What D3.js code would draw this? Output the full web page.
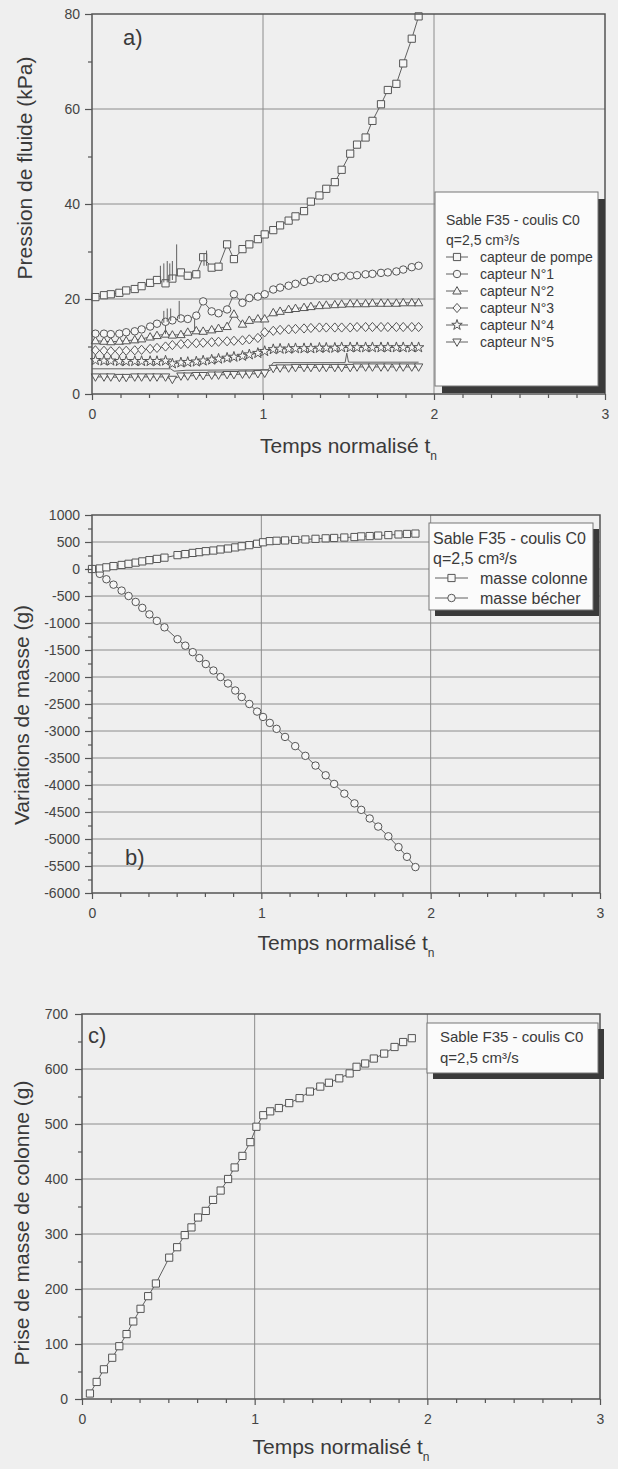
<!DOCTYPE html>
<html>
<head>
<meta charset="utf-8">
<script src="https://cdn.jsdelivr.net/npm/d3@7"></script>
<style>
  body { margin: 0; background: #efefef; }
  svg text { font-family: 'Liberation Sans', Arial, sans-serif; fill: #3a3a3a; }
  .grid { stroke: #8c8c8c; stroke-width: 1; }
  .frame { fill: none; stroke: #555; stroke-width: 1.5; }
  .axis path { display: none; }
  .axis line { stroke: #555; stroke-width: 1.2; }
  .axis text { font-size: 14px; fill: #444; }
  .serie { fill: none; stroke: #606060; stroke-width: 1; }
  .marker { fill: #f6f6f6; stroke: #555; stroke-width: 1; }
  .spike { stroke: #606060; stroke-width: 1; }
  .title { font-size: 21px; }
  .panel-label { font-size: 22px; }
  .legend-box { fill: #fbfbfb; stroke: #777; stroke-width: 1; }
  .legend-shadow { fill: #3a3a3a; }
</style>
</head>
<body>
<svg id="chart" width="618" height="1469"></svg>
<script>
// ---- donnees communes
const xTicks = [0, 1, 2, 3]

// ---- a) pression de fluide (kPa)
const tA = [0.02, 0.07, 0.11, 0.16, 0.2, 0.25, 0.29, 0.34, 0.38, 0.43, 0.47, 0.52, 0.56, 0.61, 0.65, 0.7, 0.74, 0.79, 0.83, 0.88, 0.92,
  0.97, 1.01, 1.06, 1.1, 1.15, 1.19, 1.24, 1.28, 1.33, 1.37, 1.42, 1.46, 1.51, 1.55, 1.6, 1.64, 1.69, 1.73, 1.78, 1.82, 1.87, 1.91]
const capteurPompe = [20.4, 20.8, 21, 21.3, 21.8, 22.1, 22.7, 23.4, 24, 23.3, 24.3, 25.6, 24.9, 25.2, 28.8, 26.6, 26.8, 31.5, 28.4, 30.5, 31.5,
  32.6, 33.6, 34.5, 35.5, 36.5, 37.4, 38.5, 40.5, 41.8, 43.2, 44.6, 47.2, 50.6, 52.5, 54, 57.5, 61, 64, 65.3, 69.6, 74.8, 79.5]
const capteur1 = [12.7, 12.7, 12.6, 12.7, 13, 13.2, 13.6, 14.2, 14.8, 15.2, 15.5, 15.9, 15.8, 16.5, 19.5, 17.4, 17, 17.8, 21, 19.2, 20.2,
  20.5, 21, 22, 22.4, 22.8, 23.2, 23.6, 24, 24.3, 24.4, 24.6, 24.8, 24.9, 25, 25.2, 25.3, 25.5, 25.6, 25.8, 26.2, 26.7, 27]
const capteur2 = [11.2, 11.1, 11, 11.1, 11.2, 11.4, 11.6, 12, 12.3, 12.6, 12.4, 12.5, 13, 13.3, 13.2, 13.5, 13.8, 14.2, 16.8, 14.7, 15.5,
  15.8, 15.8, 17.1, 17.4, 17.8, 18, 18.2, 18.4, 18.6, 18.7, 18.8, 18.9, 19, 19, 19, 19.1, 19.1, 19.1, 19.1, 19.2, 19.2, 19.2]
const capteur3 = [9.2, 9.1, 9, 9, 9.1, 9.2, 9.3, 9.5, 9.7, 10, 10.3, 10.5, 10.6, 10.7, 10.8, 10.9, 11, 11.1, 11.2, 11.3, 11.5,
  11.8, 13, 13.3, 13.5, 13.6, 13.7, 13.8, 13.9, 14, 14, 14, 14, 14, 14.1, 14.1, 14.1, 14.1, 14.1, 14.1, 14.1, 14.1, 14.1]
const capteur4 = [7.1, 7, 7, 6.9, 6.9, 6.9, 6.9, 6.9, 6.9, 7, 6.4, 6.6, 6.7, 6.8, 7, 7.2, 7.4, 7.6, 7.8, 8, 8.3,
  8.6, 9, 9.4, 9.5, 9.5, 9.6, 9.6, 9.6, 9.7, 9.7, 9.7, 9.8, 9.8, 9.8, 9.8, 9.8, 9.8, 9.8, 9.8, 9.8, 9.8, 9.8]
const capteur5 = [3.6, 3.6, 3.6, 3.5, 3.5, 3.6, 3.6, 3.6, 3.6, 3.6, 3.1, 3.8, 3.8, 3.9, 3.9, 4, 4, 4.1, 4.1, 4.2, 4.2,
  4.3, 4.4, 5.4, 5.5, 5.5, 5.6, 5.6, 5.6, 5.6, 5.6, 5.6, 5.6, 5.6, 5.7, 5.7, 5.7, 5.7, 5.7, 5.7, 5.7, 5.7, 5.7]
// trace sans symbole visible sous le capteur N°4
const traceT = [0, 0.46, 0.48, 0.55, 1.0, 1.03, 1.06, 1.48, 1.49, 1.5, 1.91]
const traceP = [5.3, 5.3, 4.8, 5, 5.1, 5.1, 6.6, 6.6, 8.6, 6.7, 6.7]
// pics isoles [t, bas, haut]
const picsPompe = [[0.40, 23.8, 27], [0.42, 23.5, 27.5], [0.44, 23.5, 28], [0.455, 23.8, 27.5], [0.47, 24, 28], [0.495, 24.8, 31.5],
  [0.655, 27, 29.5], [0.67, 27, 30.2]]
const pics1 = [[0.42, 15, 17.5], [0.44, 15.2, 18], [0.46, 15.4, 18], [0.51, 15.8, 19.6]]
const pics2 = [[0.6, 13.2, 15.8], [0.43, 12.6, 14.5]]

// ---- b) variations de masse (g) et c) prise de masse de colonne (g)
const tM = [0.046, 0.085, 0.127, 0.175, 0.216, 0.258, 0.297, 0.339, 0.383, 0.428, 0.505, 0.551, 0.595, 0.634, 0.672, 0.717, 0.759, 0.803,
  0.846, 0.884, 0.929, 0.975, 1.01, 1.05, 1.09, 1.14, 1.2, 1.26, 1.32, 1.38, 1.43, 1.49, 1.55, 1.59, 1.64, 1.69, 1.75, 1.81, 1.86, 1.91]
const masseColonne = [10, 31, 54, 75, 96, 118, 141, 164, 187, 210, 257, 276, 298, 312, 330, 342, 362, 379,
  400, 421, 442, 467, 495, 516, 523, 529, 538, 547, 559, 568, 575, 583, 592, 604, 610, 619, 628, 640, 649, 656]
const masseBecher = [-90, -190, -290, -400, -500, -610, -720, -840, -960, -1080, -1300, -1420, -1540, -1650, -1760, -1880, -2000, -2120,
  -2250, -2370, -2500, -2640, -2740, -2850, -2960, -3110, -3280, -3460, -3640, -3820, -3980, -4160, -4340, -4460, -4620, -4770, -4950, -5150, -5330, -5520]

const yTicksA = [0, 20, 40, 60, 80]
const yMinorA = [10, 30, 50, 70]
const yTicksB = [1000, 500, 0, -500, -1000, -1500, -2000, -2500, -3000, -3500, -4000, -4500, -5000, -5500, -6000]
const yMinorB = [750, 250, -250, -750, -1250, -1750, -2250, -2750, -3250, -3750, -4250, -4750, -5250, -5750]
const yTicksC = [0, 100, 200, 300, 400, 500, 600, 700]
const yMinorC = [50, 150, 250, 350, 450, 550, 650]

const legendA = ['capteur de pompe', 'capteur N°1', 'capteur N°2', 'capteur N°3', 'capteur N°4', 'capteur N°5']
const legendB = ['masse colonne', 'masse bécher']

const svg = d3.select('#chart')

const shapes = {
  square: 'M-3.6,-3.6h7.2v7.2h-7.2Z',
  circle: d3.symbol(d3.symbolCircle, 44)(),
  up: 'M0,-4.4L4.2,3L-4.2,3Z',
  down: 'M0,4.4L4.2,-3L-4.2,-3Z',
  diamond: 'M0,-4.6L4,0L0,4.6L-4,0Z',
  star: d3.symbol(d3.symbolStar, 34)()
}

function makePanel(box, yDomain) {
  const x = d3.scaleLinear().domain([0, 3]).range([box.left, box.right])
  const y = d3.scaleLinear().domain(yDomain).range([box.bottom, box.top])
  return {x, y, box}
}

function drawGrid(p, yTicks) {
  const g = svg.append('g')
  g.selectAll('line.gx')
    .data(xTicks.slice(1, -1))
    .enter()
    .append('line')
    .attr('class', 'grid gx')
    .attr('x1', d => p.x(d)).attr('x2', d => p.x(d))
    .attr('y1', p.box.top).attr('y2', p.box.bottom)
  g.selectAll('line.gy')
    .data(yTicks.slice(1, -1))
    .enter()
    .append('line')
    .attr('class', 'grid gy')
    .attr('x1', p.box.left).attr('x2', p.box.right)
    .attr('y1', d => p.y(d)).attr('y2', d => p.y(d))
}

function drawAxes(p, yTicks, yMinor, labelPad) {
  const b = p.box
  svg.append('g').attr('class', 'axis')
    .attr('transform', `translate(${b.left},0)`)
    .call(d3.axisLeft(p.y).tickValues(yTicks).tickSize(7).tickPadding(labelPad).tickFormat(d => String(d)))
  svg.append('g').attr('class', 'axis')
    .attr('transform', `translate(${b.left},0)`)
    .call(d3.axisLeft(p.y).tickValues(yMinor).tickSize(4).tickFormat(''))
  svg.append('g').attr('class', 'axis')
    .attr('transform', `translate(0,${b.bottom})`)
    .call(d3.axisBottom(p.x).tickValues(xTicks).tickSize(6).tickPadding(9).tickFormat(d => String(d)))
  svg.append('g').attr('class', 'axis')
    .attr('transform', `translate(0,${b.bottom})`)
    .call(d3.axisBottom(p.x).tickValues(d3.range(1, 18).filter(i => i % 6 !== 0).map(i => i / 6)).tickSize(4).tickFormat(''))
  svg.append('rect').attr('class', 'frame')
    .attr('x', b.left).attr('y', b.top)
    .attr('width', b.right - b.left).attr('height', b.bottom - b.top)
}

function drawTitles(p, yTitle, yTitleCx, yTitleCy, xTitleDy) {
  const b = p.box
  const t = svg.append('text').attr('class', 'title')
    .attr('x', (b.left + b.right) / 2).attr('y', b.bottom + xTitleDy)
    .attr('text-anchor', 'middle')
  t.append('tspan').text('Temps normalisé t')
  t.append('tspan').attr('dy', 7).attr('font-size', 12).text('n')
  svg.append('text').attr('class', 'title')
    .attr('transform', `translate(${yTitleCx},${yTitleCy}) rotate(-90)`)
    .attr('text-anchor', 'middle')
    .attr('dy', '0.35em')
    .text(yTitle)
}

function drawSerie(p, ts, values, shape) {
  const line = d3.line()
    .x((d, i) => p.x(ts[i]))
    .y(d => p.y(d))
  svg.append('path').attr('class', 'serie').attr('d', line(values))
  if (!shape) return
  svg.append('g').selectAll('path')
    .data(values)
    .enter()
    .append('path')
    .attr('class', 'marker')
    .attr('transform', (d, i) => `translate(${p.x(ts[i])},${p.y(d)})`)
    .attr('d', shapes[shape])
}

function drawSpikes(p, spikes) {
  svg.append('g').selectAll('line')
    .data(spikes)
    .enter()
    .append('line')
    .attr('class', 'spike')
    .attr('x1', d => p.x(d[0])).attr('x2', d => p.x(d[0]))
    .attr('y1', d => p.y(d[1])).attr('y2', d => p.y(d[2]))
}

function drawLegend(box, fontSize, textX, headY, rowY, rowStep, entries, entryShapes, sample) {
  const g = svg.append('g')
  g.append('rect').attr('class', 'legend-shadow')
    .attr('x', box.x + box.sh).attr('y', box.y + box.sh).attr('width', box.w).attr('height', box.h)
  g.append('rect').attr('class', 'legend-box')
    .attr('x', box.x).attr('y', box.y).attr('width', box.w).attr('height', box.h)
  g.append('text').attr('x', textX).attr('y', headY[0]).attr('font-size', fontSize).text('Sable F35 - coulis C0')
  g.append('text').attr('x', textX).attr('y', headY[1]).attr('font-size', fontSize).text('q=2,5 cm³/s')
  entries.forEach((label, i) => {
    const cy = rowY + i * rowStep
    g.append('line').attr('class', 'serie')
      .attr('x1', sample[0]).attr('x2', sample[1]).attr('y1', cy).attr('y2', cy)
    g.append('path').attr('class', 'marker')
      .attr('transform', `translate(${(sample[0] + sample[1]) / 2},${cy})`)
      .attr('d', shapes[entryShapes[i]])
    g.append('text').attr('x', sample[1] + 12).attr('y', cy).attr('dy', '0.35em')
      .attr('font-size', fontSize).text(label)
  })
}

// ---------- panneau a
const pa = makePanel({left: 92, right: 605, top: 14, bottom: 394}, [0, 80])
drawGrid(pa, yTicksA)
drawSerie(pa, traceT, traceP, null)
drawSerie(pa, tA, capteur5, 'down')
drawSerie(pa, tA, capteur4, 'star')
drawSerie(pa, tA, capteur3, 'diamond')
drawSerie(pa, tA, capteur2, 'up')
drawSpikes(pa, pics2)
drawSerie(pa, tA, capteur1, 'circle')
drawSpikes(pa, pics1)
drawSerie(pa, tA, capteurPompe, 'square')
drawSpikes(pa, picsPompe)
drawAxes(pa, yTicksA, yMinorA, 5)
drawTitles(pa, 'Pression de fluide (kPa)', 25, 168, 59)
svg.append('text').attr('class', 'panel-label').attr('x', 123).attr('y', 45).text('a)')
drawLegend({x: 435, y: 192, w: 163, h: 194, sh: 7}, 14, 446, [225, 245], 257, 17, legendA,
  ['square', 'circle', 'up', 'diamond', 'star', 'down'], [446, 468])

// ---------- panneau b
const pb = makePanel({left: 92, right: 600, top: 515, bottom: 893}, [-6000, 1000])
drawGrid(pb, yTicksB)
drawSerie(pb, [0].concat(tM), [0].concat(masseBecher), 'circle')
drawSerie(pb, [0].concat(tM), [0].concat(masseColonne), 'square')
drawAxes(pb, yTicksB, yMinorB, 5)
drawTitles(pb, 'Variations de masse (g)', 22, 715, 57)
svg.append('text').attr('class', 'panel-label').attr('x', 125).attr('y', 865).text('b)')
drawLegend({x: 429, y: 523, w: 164, h: 87, sh: 6}, 16, 433, [544, 564], 578, 20, legendB,
  ['square', 'circle'], [435, 468])

// ---------- panneau c
const pc = makePanel({left: 82, right: 600, top: 1014, bottom: 1399}, [0, 700])
drawGrid(pc, yTicksC)
drawSerie(pc, tM, masseColonne, 'square')
drawAxes(pc, yTicksC, yMinorC, 7)
drawTitles(pc, 'Prise de masse de colonne (g)', 22, 1223, 55)
svg.append('text').attr('class', 'panel-label').attr('x', 88).attr('y', 1043).text('c)')
drawLegend({x: 427, y: 1023, w: 171, h: 50, sh: 6}, 15, 440, [1042, 1063], 0, 0, [], [], [0, 0])
</script>
</body>
</html>
